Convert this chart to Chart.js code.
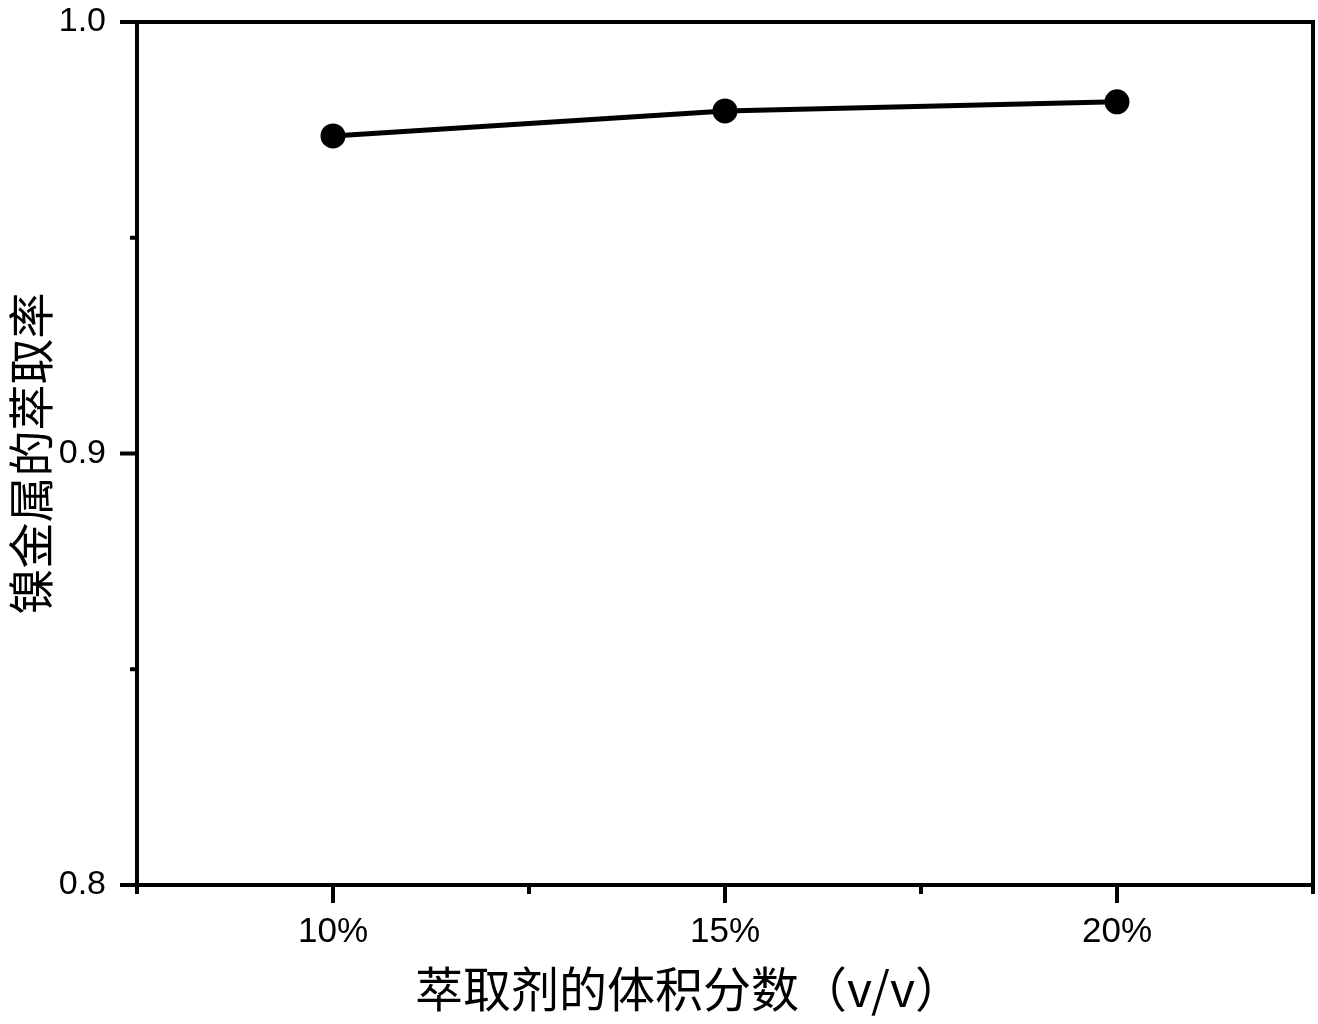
<!DOCTYPE html>
<html>
<head>
<meta charset="utf-8">
<script src="https://cdn.jsdelivr.net/npm/chart.js@4"></script>
<style>
  body { margin: 0; background: #fff; }
  #wrap { width: 1318px; height: 1024px; }
</style>
</head>
<body>
<div id="wrap"><canvas id="lineChart" width="1318" height="1024"></canvas></div>
<script>
// volume fraction of extractant (%), and Ni extraction rate
const categories = ['10%', '15%', '20%'];
const xValues = [10, 15, 20];
const yValues = [0.9736, 0.9794, 0.9815];
const yTickLabels = [0.8, 0.9, 1.0];
const yMinorTicks = [0.85, 0.95];
const xMinorTicks = [7.5, 12.5, 17.5, 22.5];

const xTitle = '萃取剂的体积分数（v/v）\u3000\u3000';
const yTitle = '镍金属的萃取率';

// box around plot + outward tick marks
const framePlugin = {
    id: 'frame',
    afterDraw(chart) {
        const ctx = chart.ctx;
        const a = chart.chartArea;
        const xs = chart.scales.x, ys = chart.scales.y;
        ctx.save();
        ctx.strokeStyle = '#000';
        ctx.lineWidth = 4;
        ctx.strokeRect(a.left, a.top, a.right - a.left, a.bottom - a.top);
        ctx.beginPath();
        yTickLabels.forEach(v => {
            const y = ys.getPixelForValue(v);
            ctx.moveTo(a.left, y); ctx.lineTo(a.left - 17, y);
        });
        yMinorTicks.forEach(v => {
            const y = ys.getPixelForValue(v);
            ctx.moveTo(a.left, y); ctx.lineTo(a.left - 7, y);
        });
        xValues.forEach(v => {
            const x = xs.getPixelForValue(v);
            ctx.moveTo(x, a.bottom); ctx.lineTo(x, a.bottom + 18);
        });
        xMinorTicks.forEach(v => {
            const x = xs.getPixelForValue(v);
            ctx.moveTo(x, a.bottom); ctx.lineTo(x, a.bottom + 9);
        });
        ctx.stroke();
        ctx.restore();
    }
};

function getChart() {
    const data = {
        datasets: [{
            data: xValues.map((x, i) => ({ x: x, y: yValues[i] })),
            borderColor: '#000',
            backgroundColor: '#000',
            borderWidth: 5,
            pointRadius: 10,
            pointHoverRadius: 10,
            tension: 0
        }]
    };
    const config = {
        type: 'line',
        data,
        plugins: [framePlugin],
        options: {
            responsive: false,
            animation: false,
            layout: { autoPadding: false, padding: { top: 22, right: 5, left: 0, bottom: 0 } },
            plugins: { legend: { display: false }, tooltip: { enabled: false } },
            scales: {
                x: {
                    type: 'linear',
                    min: 7.5,
                    max: 22.5,
                    afterFit(scale) {
                        scale.height = 139;
                        scale.paddingLeft = 0;
                        scale.paddingRight = 0;
                    },
                    grid: { display: false, drawTicks: false },
                    border: { display: false },
                    ticks: {
                        stepSize: 2.5,
                        autoSkip: false,
                        maxRotation: 0,
                        padding: 26,
                        color: '#000',
                        font: { family: 'Liberation Sans', size: 35 },
                        callback: v => {
                            const i = xValues.indexOf(v);
                            return i >= 0 ? categories[i] : '';
                        }
                    },
                    title: {
                        display: true,
                        text: xTitle,
                        color: '#000',
                        padding: { top: 0, bottom: 6 },
                        font: { family: 'Noto Sans CJK SC', size: 48 }
                    }
                },
                y: {
                    min: 0.8,
                    max: 1.0,
                    afterFit(scale) {
                        scale.width = 137;
                        scale.paddingTop = 0;
                        scale.paddingBottom = 0;
                    },
                    grid: { display: false, drawTicks: false },
                    border: { display: false },
                    ticks: {
                        stepSize: 0.05,
                        autoSkip: false,
                        padding: 31,
                        color: '#000',
                        font: { family: 'Liberation Sans', size: 34 },
                        callback: v => {
                            const hit = yTickLabels.find(t => Math.abs(t - v) < 1e-6);
                            return hit !== undefined ? hit.toFixed(1) : '';
                        }
                    },
                    title: {
                        display: true,
                        text: yTitle,
                        color: '#000',
                        padding: { top: 3, bottom: 0 },
                        font: { family: 'Noto Sans CJK SC', size: 46 }
                    }
                }
            }
        }
    };
    var myChart = new Chart(document.getElementById('lineChart'), config);
}

getChart();
</script>
</body>
</html>
